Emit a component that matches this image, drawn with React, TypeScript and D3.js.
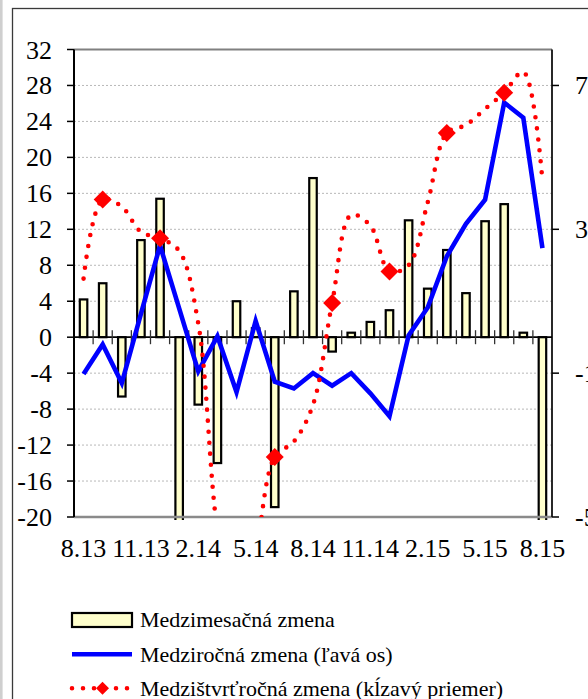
import React from "react";
import * as d3 from "d3";

const months = [
  "8.13", "9.13", "10.13", "11.13", "12.13", "1.14", "2.14", "3.14", "4.14",
  "5.14", "6.14", "7.14", "8.14", "9.14", "10.14", "11.14", "12.14", "1.15",
  "2.15", "3.15", "4.15", "5.15", "6.15", "7.15", "8.15",
];
const shownLabels = ["8.13", "11.13", "2.14", "5.14", "8.14", "11.14", "2.15", "5.15", "8.15"];

// Medzimesačná zmena (bars, left axis)
const momValues = [
  4.2, 6.0, -6.6, 10.8, 15.4, -22, -7.5, -14.0, 4.0, 1.0, -18.9, 5.1, 17.7,
  -1.6, 0.5, 1.7, 3.0, 13.0, 5.4, 9.7, 4.9, 12.9, 14.8, 0.5, -22,
];
// Medziročná zmena (blue line, left axis)
const yoyValues = [
  -4.1, -0.8, -5.1, 2.6, 10.2, 3.2, -3.8, 0.1, -6.1, 1.8, -4.95, -5.7, -4.0,
  -5.4, -4.0, -6.25, -8.8, 0.2, 3.3, 9.0, 12.6, 15.3, 26.1, 24.4, 9.9,
];
// Medzištvrťročná zmena (red dotted, right axis)
const qoqValues = [
  1.63, 3.83, 3.63, 2.93, 2.75, 2.4, 0.38, -5.38, -8.0, -6.0, -3.33, -2.9, -1.88,
  0.95, 3.4, 3.1, 1.83, 2.0, 3.75, 5.68, 5.9, 6.35, 6.8, 7.38, 4.35,
];
const qoqMarkerMonths = ["9.13", "12.13", "3.14", "6.14", "9.14", "12.14", "3.15", "6.15"];

const leftTicks = [32, 28, 24, 20, 16, 12, 8, 4, 0, -4, -8, -12, -16, -20];
const rightTicks = [7, 3, -1, -5];

const legendLabels = [
  "Medzimesačná zmena",
  "Medziročná zmena (ľavá os)",
  "Medzištvrťročná zmena (kĺzavý priemer)",
];

const FONT = "'Liberation Serif', 'Times New Roman', serif";

export default function App() {
  const W = 588;
  const H = 699;
  const pl = 74, pr = 552, pt = 49.5, pb = 517;

  const x = d3.scaleBand<string>().domain(months).range([pl, pr]).paddingInner(0).paddingOuter(0);
  const yL = d3.scaleLinear().domain([-20, 32]).range([pb, pt]);
  const yR = d3.scaleLinear().domain([-5, 8]).range([pb, pt]);
  const cx = (m: string) => (x(m) as number) + x.bandwidth() / 2;

  const blueLine = d3
    .line<number>()
    .x((_, i) => cx(months[i]))
    .y((d) => yL(d))(yoyValues) as string;

  const redLine = d3
    .line<number>()
    .x((_, i) => cx(months[i]))
    .y((d) => yR(d))
    .curve(d3.curveCatmullRom.alpha(0.5))(qoqValues) as string;

  const barW = 7.5;
  const diamond = (cxv: number, cyv: number, r: number) =>
    `M${cxv},${cyv - r}L${cxv + r},${cyv}L${cxv},${cyv + r}L${cxv - r},${cyv}Z`;

  return (
    <div style={{ position: "absolute", left: 0, top: 0, width: W, height: H, overflow: "hidden" }}>
      <svg width={W} height={H} style={{ display: "block", background: "#fff" }}>
        <defs>
          <clipPath id="plotClip">
            <rect x={pl} y={pt} width={pr - pl} height={pb - pt} />
          </clipPath>
          <clipPath id="barClip">
            <rect x={pl} y={pt} width={pr - pl} height={pb - pt + 3} />
          </clipPath>
        </defs>
        {/* outer strips */}
        <rect x={0} y={0} width={2.6} height={H} fill="#cfcfcf" />
        <rect x={12.5} y={8.5} width={700} height={800} fill="none" stroke="#3a3a3a" strokeWidth={1.3} />

        {/* gridlines */}
        {leftTicks
          .filter((t) => t !== 32 && t !== -20 && t !== 0)
          .map((t) => (
            <line key={"g" + t} x1={pl} x2={pr} y1={yL(t)} y2={yL(t)} stroke="#b8b8b8" strokeWidth={1} strokeDasharray="2 2" />
          ))}

        {/* bars */}
        <g clipPath="url(#barClip)">
          {momValues.map((v, i) => {
            const y0 = yL(0);
            const y1 = yL(v);
            return (
              <rect
                key={"b" + i}
                x={cx(months[i]) - barW / 2}
                y={Math.min(y0, y1)}
                width={barW}
                height={Math.abs(y1 - y0)}
                fill="#ffffcc"
                stroke="#000"
                strokeWidth={2.2}
              />
            );
          })}
        </g>

        {/* plot borders */}
        <line x1={pl} x2={pr} y1={pt} y2={pt} stroke="#808080" strokeWidth={2} />
        <line x1={pl} x2={pr} y1={pb} y2={pb} stroke="#8a8a8a" strokeWidth={2.5} />
        <line x1={pl} x2={pl} y1={pt} y2={pb} stroke="#000" strokeWidth={2} />
        <line x1={pr} x2={pr} y1={pt} y2={pb} stroke="#111" strokeWidth={1.8} />

        {/* zero axis */}
        <line x1={pl} x2={pr} y1={yL(0)} y2={yL(0)} stroke="#000" strokeWidth={1.8} />
        {months.slice(1).map((m) => (
          <line key={"t" + m} x1={x(m) as number} x2={x(m) as number} y1={yL(0) - 7} y2={yL(0) + 7} stroke="#333" strokeWidth={1.3} />
        ))}

        {/* left ticks & labels */}
        {leftTicks.map((t) => (
          <g key={"lt" + t}>
            <line x1={pl - 7} x2={pl} y1={yL(t)} y2={yL(t)} stroke="#000" strokeWidth={1.5} />
            <text x={52} y={yL(t) + 9} textAnchor="end" fontFamily={FONT} fontSize={26} fill="#000">
              {t}
            </text>
          </g>
        ))}

        {/* right ticks & labels */}
        {rightTicks.map((t) => (
          <g key={"rt" + t}>
            <line x1={pr} x2={pr + 7} y1={yR(t)} y2={yR(t)} stroke="#000" strokeWidth={1.5} />
            <text x={575} y={yR(t) + 9} textAnchor="start" fontFamily={FONT} fontSize={26} fill="#000">
              {t}
            </text>
          </g>
        ))}

        {/* x labels */}
        {shownLabels.map((m) => (
          <text key={"xl" + m} x={cx(m)} y={557} textAnchor="middle" fontFamily={FONT} fontSize={26} fill="#000">
            {m}
          </text>
        ))}

        {/* lines */}
        <g clipPath="url(#plotClip)">
          <path d={blueLine} fill="none" stroke="#0000ff" strokeWidth={4.6} strokeLinejoin="miter" />
          <path d={redLine} fill="none" stroke="#ff0000" strokeWidth={4.6} strokeDasharray="0 11" strokeLinecap="round" />
          {qoqMarkerMonths.map((m) => {
            const i = months.indexOf(m);
            return <path key={"d" + m} d={diamond(cx(m), yR(qoqValues[i]), 9)} fill="#ff0000" />;
          })}
        </g>

        {/* legend */}
        <rect x={72} y={613} width={60} height={14} fill="#ffffcc" stroke="#000" strokeWidth={2.2} />
        <text x={140} y={627} fontFamily={FONT} fontSize={22} fill="#000">{legendLabels[0]}</text>
        <line x1={72} x2={132} y1={654.3} y2={654.3} stroke="#0000ff" strokeWidth={4.6} />
        <text x={140} y={662} fontFamily={FONT} fontSize={22} fill="#000">{legendLabels[1]}</text>
        <line x1={72} x2={130} y1={688.3} y2={688.3} stroke="#ff0000" strokeWidth={4.6} strokeDasharray="0 11" strokeLinecap="round" />
        <path d={diamond(102.5, 688.3, 6.5)} fill="#ff0000" />
        <text x={140} y={696} fontFamily={FONT} fontSize={22} fill="#000">{legendLabels[2]}</text>
      </svg>
    </div>
  );
}
